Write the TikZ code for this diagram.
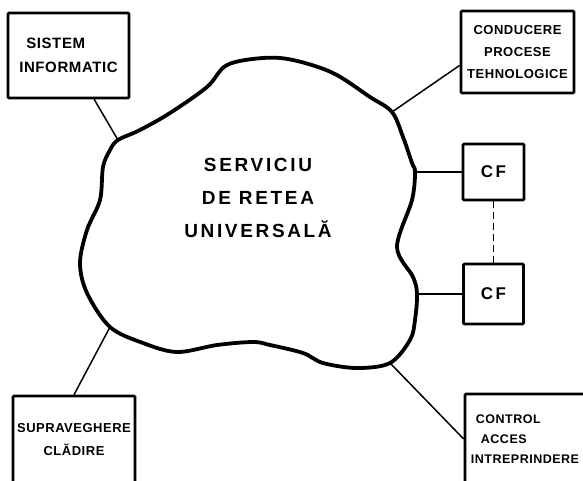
\documentclass[tikz,border=0pt]{standalone}
\usepackage{fontspec}
\setmainfont{Liberation Sans}
\newfontfamily\boxfont[LetterSpace=4]{Liberation Sans}
\newfontfamily\cloudfont[LetterSpace=14]{Liberation Sans}

\begin{document}
\begin{tikzpicture}[x=1pt, y=-1pt,
unit/.style={draw, line width=2.6pt, rounded corners=1pt, inner sep=0pt},
link/.style={line width=1.5pt}]
\tikzstyle{cloud}=[line width=3.8pt, line join=round]
\useasboundingbox (0,0) rectangle (583,480);
\clip (0,0) rectangle (583,480);

%Retea
\draw[cloud] plot[smooth cycle, tension=0.55] coordinates {
(118,140) (140,130) (170,113) (207,87) (227,65) (263,58) (293,60) (333,73)
(370,97) (392,112) (403,137) (412,163) (415,172) (412,200) (397,247)
(413,277) (417,294) (415,320) (410,340) (390,363) (357,368) (323,363)
(303,353) (270,345) (253,342) (217,345) (177,352) (143,343) (110,327)
(87,293) (80,263) (87,230) (100,200) (103,167) (110,150)};
\coordinate (j1) at (118,140);
\coordinate (j2) at (392,112);
\coordinate (j3) at (415,172);
\coordinate (j4) at (417,294);
\coordinate (j5) at (390,363);
\coordinate (j6) at (110,327);
\node[font=\cloudfont\bfseries\fontsize{19}{33}\selectfont, align=center] (srv) at (258,198) {SERVICIU\\DE RETEA\\UNIVERSALĂ};

%Utilizatori
\node[unit, minimum width=121pt, minimum height=85pt, align=left, font=\boxfont\bfseries\fontsize{15}{24}\selectfont] (sis) at (68.5,55.5) {\hspace{7pt}SISTEM\\INFORMATIC};
\node[unit, minimum width=113pt, minimum height=82pt, align=center, font=\boxfont\bfseries\fontsize{13}{22}\selectfont] (cond) at (517.5,52) {CONDUCERE\\PROCESE\\TEHNOLOGICE};
\node[unit, minimum width=61pt, minimum height=56pt, font=\cloudfont\bfseries\fontsize{17}{20}\selectfont] (cf1) at (493.5,172) {CF};
\node[unit, minimum width=60pt, minimum height=60pt, font=\cloudfont\bfseries\fontsize{17}{20}\selectfont] (cf2) at (493.5,294) {CF};
\node[unit, minimum width=122pt, minimum height=88pt, align=center, font=\boxfont\bfseries\fontsize{13}{23}\selectfont] (sup) at (74,440) {SUPRAVEGHERE\\CLĂDIRE};
\node[unit, minimum width=120pt, minimum height=90pt, align=left, font=\boxfont\bfseries\fontsize{12.5}{20}\selectfont] (ctl) at (525,439) {\hspace{5pt}CONTROL\\\hspace{10pt}ACCES\\INTREPRINDERE};

%Legaturi
\draw[link] (j1) -- (sis);
\draw[link] (j2) -- (cond.193);
\draw[link] (j3) -- (cf1.west);
\draw[link] (j4) -- (cf2.west);
\draw[link] (j5) -- (ctl.west);
\draw[link] (j6) -- (sup.north);
\draw[link, dash pattern=on 7pt off 4pt] (cf1.south) -- (cf2.north);
\end{tikzpicture}
\end{document}
